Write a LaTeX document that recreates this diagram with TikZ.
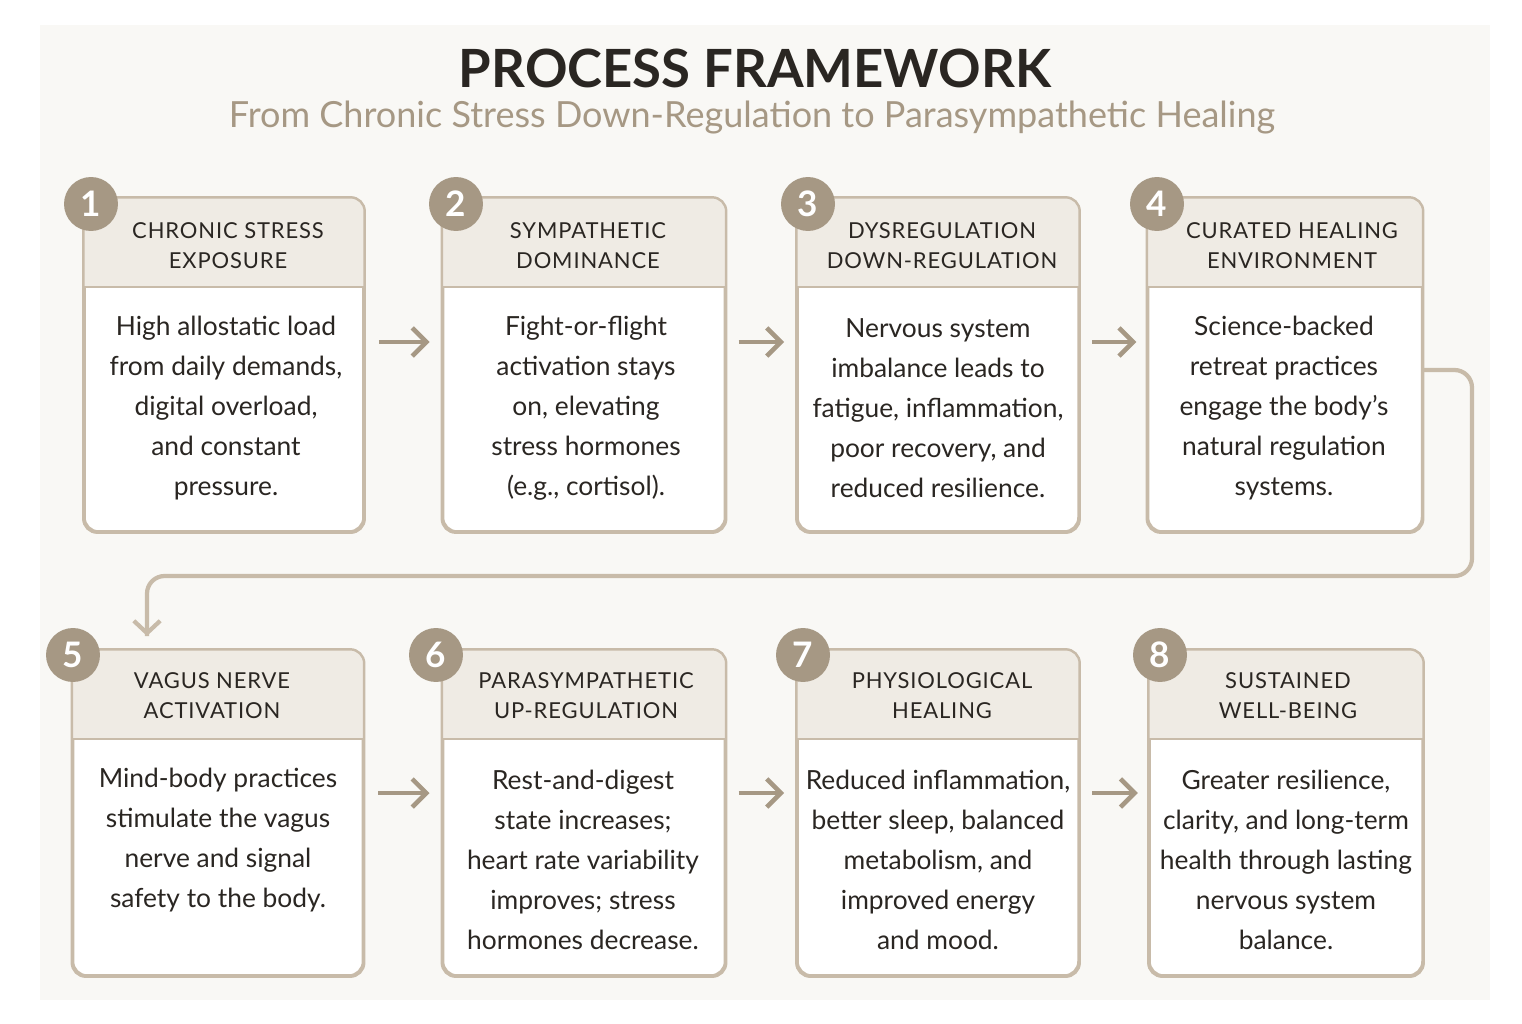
\documentclass[tikz,border=0pt]{standalone}
\usepackage{fontspec}
\setmainfont{Lato}
\usetikzlibrary{positioning}
\usetikzlibrary{calc}
\usetikzlibrary{arrows.meta}
\definecolor{tan}{HTML}{C8BBA9}
\definecolor{headfill}{HTML}{EFEBE4}
\definecolor{badge}{HTML}{A69884}
\definecolor{bg}{HTML}{F9F8F5}
\definecolor{ink}{HTML}{2A2622}
\definecolor{subink}{HTML}{A69884}
\newcommand{\headband}[1]{%
  \fill[headfill] ($(#1.north west)+(0,90)$) [rounded corners=8] -- (#1.north west) -- (#1.north east) [sharp corners] -- ($(#1.north east)+(0,90)$) -- cycle;
  \draw[tan, line width=1.2pt] ($(#1.north west)+(0,90)$) -- ($(#1.north east)+(0,90)$);}
\begin{document}
\begin{tikzpicture}[x=0.02cm, y=-0.02cm,
        box/.style={draw=tan, line width=1.4pt, rounded corners=8pt, rectangle, inner sep=0pt},
        head/.style={align=center, font=\fontsize{12.5}{17}\selectfont\addfontfeature{LetterSpace=4}, text=ink},
        body/.style={align=center, font=\fontsize{15}{22.8}\selectfont, text=ink},
        num/.style={circle, fill=badge, minimum size=1.08cm, inner sep=0pt, text=white, font=\fontsize{20}{20}\selectfont\bfseries},
        arrow/.style={draw=badge, line width=2.6pt, -{Straight Barb[length=8pt,width=16pt]}},
        link/.style={draw=tan, line width=2.4pt, rounded corners=10pt},
    ]
        \useasboundingbox (0,0) rectangle (1522,1024);
        \fill[white] (0,0) rectangle (1522,1024);
        \fill[bg] (40,25) rectangle (1490,1000);

        \node[font=\fontsize{30}{30}\selectfont\bfseries, text=ink] (title) at (755,68) {PROCESS FRAMEWORK};
        \node[font=\fontsize{20.5}{20.5}\selectfont, text=subink] (subtitle) at (752,118) {From Chronic Stress Down-Regulation to Parasympathetic Healing};

        % top row
        \node[box, fill=white, minimum width=5.58cm, minimum height=6.66cm] (box1) at (224,365) {};
        \node[box, fill=white, minimum width=5.64cm, minimum height=6.66cm] (box2) at (584,365) {};
        \node[box, fill=white, minimum width=5.62cm, minimum height=6.66cm] (box3) at (938,365) {};
        \node[box, fill=white, minimum width=5.48cm, minimum height=6.66cm] (box4) at (1285,365) {};
        % bottom row
        \node[box, fill=white, minimum width=5.80cm, minimum height=6.50cm] (box5) at (218,813) {};
        \node[box, fill=white, minimum width=5.64cm, minimum height=6.50cm] (box6) at (584,813) {};
        \node[box, fill=white, minimum width=5.62cm, minimum height=6.50cm] (box7) at (938,813) {};
        \node[box, fill=white, minimum width=5.46cm, minimum height=6.50cm] (box8) at (1286,813) {};

        \headband{box1}\headband{box2}\headband{box3}\headband{box4}
        \headband{box5}\headband{box6}\headband{box7}\headband{box8}
        \foreach \b in {box1,box2,box3,box4,box5,box6,box7,box8}
            \draw[tan, line width=1.4pt, rounded corners=8pt] (\b.north west) rectangle (\b.south east);

        \node[head] (head1) at (228,246) {CHRONIC STRESS\\EXPOSURE};
        \node[head] (head2) at (588,246) {SYMPATHETIC\\DOMINANCE};
        \node[head] (head3) at (942,246) {DYSREGULATION\\DOWN-REGULATION};
        \node[head] (head4) at (1292,246) {CURATED HEALING\\ENVIRONMENT};
        \node[head] (head5) at (212,696) {VAGUS NERVE\\ACTIVATION};
        \node[head] (head6) at (586,696) {PARASYMPATHETIC\\UP-REGULATION};
        \node[head] (head7) at (942,696) {PHYSIOLOGICAL\\HEALING};
        \node[head] (head8) at (1288,696) {SUSTAINED\\WELL-BEING};

        \node[body] (text1) at (226,408) {High allostatic load\\from daily demands,\\digital overload,\\and constant\\pressure.};
        \node[body] (text2) at (586,408) {Fight-or-flight\\activation stays\\on, elevating\\stress hormones\\(e.g., cortisol).};
        \node[body] (text3) at (938,408) {Nervous system\\imbalance leads to\\fatigue, inflammation,\\poor recovery, and\\reduced resilience.};
        \node[body] (text4) at (1284,408) {Science-backed\\retreat practices\\engage the body’s\\natural regulation\\systems.};
        \node[body] (text5) at (218,840) {Mind-body practices\\stimulate the vagus\\nerve and signal\\safety to the body.};
        \node[body] (text6) at (583,860) {Rest-and-digest\\state increases;\\heart rate variability\\improves; stress\\hormones decrease.};
        \node[body] (text7) at (938,860) {Reduced inflammation,\\better sleep, balanced\\metabolism, and\\improved energy\\and mood.};
        \node[body] (text8) at (1286,860) {Greater resilience,\\clarity, and long-term\\health through lasting\\nervous system\\balance.};

        \node[num] (num1) at (91,204) {1};
        \node[num] (num2) at (456,204) {2};
        \node[num] (num3) at (808,204) {3};
        \node[num] (num4) at (1157,204) {4};
        \node[num] (num5) at (73,655) {5};
        \node[num] (num6) at (436,655) {6};
        \node[num] (num7) at (803,655) {7};
        \node[num] (num8) at (1160,655) {8};

        \coordinate (turn) at (1472,576);
        \coordinate (drop) at (147,636);

        \draw[arrow, shorten <=8pt, shorten >=7pt] (box1.east |- 0,342) -- (box2.west |- 0,342);
        \draw[arrow, shorten <=7pt, shorten >=7pt] (box2.east |- 0,342) -- (box3.west |- 0,342);
        \draw[arrow, shorten <=7pt, shorten >=6pt] (box3.east |- 0,342) -- (box4.west |- 0,342);
        \draw[arrow, shorten <=8pt, shorten >=7pt] (box5.east |- 0,793) -- (box6.west |- 0,793);
        \draw[arrow, shorten <=7pt, shorten >=7pt] (box6.east |- 0,793) -- (box7.west |- 0,793);
        \draw[arrow, shorten <=7pt, shorten >=6pt] (box7.east |- 0,793) -- (box8.west |- 0,793);

        \draw[link] (box4.east |- 0,370) -| (turn) -| (drop);
        \draw[draw=tan, line width=2.4pt, -{Straight Barb[length=7pt,width=15pt]}] ($(drop)+(0,-10)$) -- (drop);
    \end{tikzpicture}
\end{document}
